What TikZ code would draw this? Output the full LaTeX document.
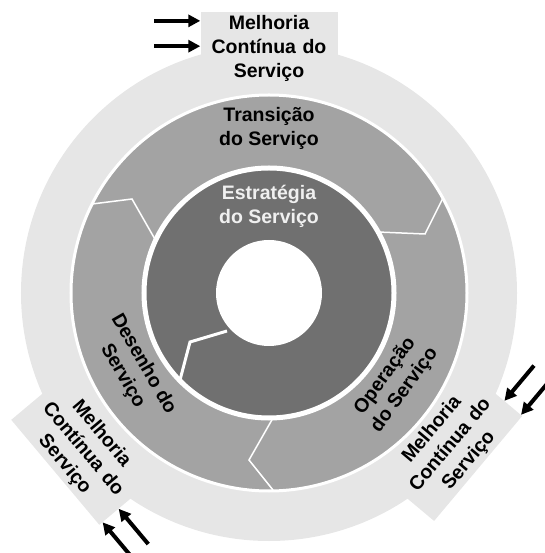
\documentclass[tikz,border=0pt]{standalone}
\usepackage{fontspec}
\setmainfont{Liberation Sans}
\usetikzlibrary{arrows.meta, calc}
\definecolor{ringlight}{RGB}{230,230,230}
\definecolor{ringmid}{RGB}{163,163,163}
\definecolor{ringdark}{RGB}{112,112,112}
\tikzset{
    every node/.style={font=\bfseries\fontsize{19.5}{24}\selectfont, align=center, inner sep=0pt}, % bold sans labels
    mcsbox/.style={fill=ringlight, text width=137pt, minimum height=72pt}, % the boxes of the outer ring
    cyclearrow/.style={-{Triangle[length=12pt,width=12pt]}, line width=4pt, black}, % thick black arrows
    seam/.style={white, line width=1.5pt}, % thin white seams of the middle ring
}
\begin{document}
\begin{tikzpicture}[x=1pt, y=1pt]
    \useasboundingbox (-269,-260) rectangle (275,293);

    % outer ring and its three boxes
    \fill[ringlight] (0,0) circle (248);
    \node[mcsbox] (mcsTop) at (0,245) {Melhoria\\Contínua do\\Serviço};
    \node[mcsbox, rotate=-50] (mcsLeft) at (220:243) {Melhoria\\Contínua do\\Serviço};
    \node[mcsbox, rotate=50] (mcsRight) at (-40:237) {Melhoria\\Contínua do\\Serviço};

    % middle ring
    \draw[white, line width=3pt, fill=ringmid] (0,0) circle (198);
    \draw[seam] (-177,89) -- (-137,94) -- (-113,52);
    \draw[seam] (174,95) -- (156,59) -- (109,61);
    \draw[seam] (4,-125) -- (-20,-167) -- (4,-197);

    % inner ring
    \draw[white, line width=5pt, fill=ringdark] (0,0) circle (125);
    \draw[white, line width=3pt] (-42,-38) -- (-79,-49) -- (-89,-87);
    \fill[white] (0,0) circle (53);

    % labels
    \node (transicao) at (0,165) {Transição\\do Serviço};
    \node[text=white!94!black] (estrategia) at (0,87) {Estratégia\\do Serviço};
    \node[rotate=-60] (desenho) at (-136,-77) {Desenho do\\Serviço};
    \node[rotate=54] (operacao) at (126,-90) {Operação\\do Serviço};

    % arrows running clockwise into the boxes
    \foreach \bx/\side/\other/\vside/\fa/\fb in {mcsTop/west/east/north/0.05/0.75,
        mcsLeft/east/west/south/0.3/0.88, mcsRight/east/west/south/0.35/0.95} {
        \coordinate (\bx-tipA) at ($(\bx.\side)!\fa!(\bx.\vside\space\side)$);
        \coordinate (\bx-farA) at ($(\bx.\other)!\fa!(\bx.\vside\space\other)$);
        \coordinate (\bx-tipB) at ($(\bx.\side)!\fb!(\bx.\vside\space\side)$);
        \coordinate (\bx-farB) at ($(\bx.\other)!\fb!(\bx.\vside\space\other)$);
        \coordinate (\bx-tailA) at ($(\bx-tipA)!-46pt!(\bx-farA)$);
        \coordinate (\bx-tailB) at ($(\bx-tipB)!-46pt!(\bx-farB)$);
        \draw[cyclearrow] (\bx-tailA) -- (\bx-tipA);
        \draw[cyclearrow] (\bx-tailB) -- (\bx-tipB);
    }
\end{tikzpicture}
\end{document}
